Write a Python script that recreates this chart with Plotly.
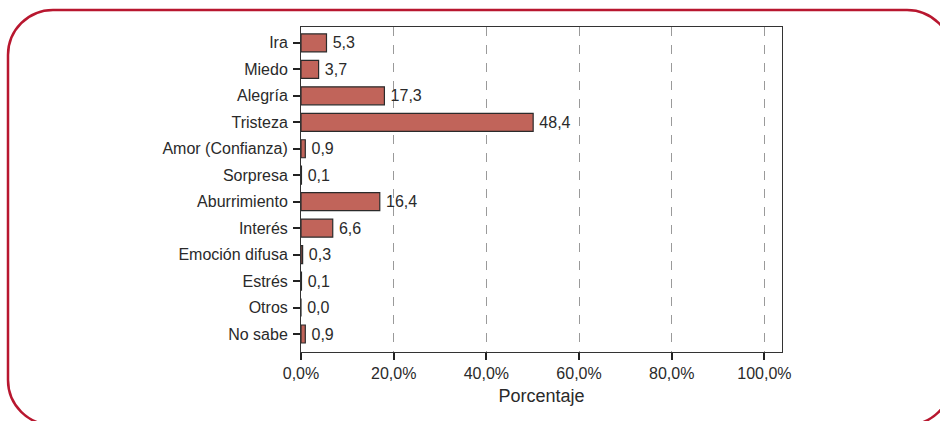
import plotly.graph_objects as go

categories = ["Ira", "Miedo", "Alegría", "Tristeza", "Amor (Confianza)", "Sorpresa",
              "Aburrimiento", "Interés", "Emoción difusa", "Estrés", "Otros", "No sabe"]
# bar lengths as drawn in the picture (percent on the axis)
bar_lengths = [5.5, 3.8, 18.0, 50.1, 0.93, 0.1, 17.0, 6.85, 0.35, 0.1, 0.0, 0.93]
# printed value labels
value_labels = ["5,3", "3,7", "17,3", "48,4", "0,9", "0,1", "16,4", "6,6", "0,3", "0,1", "0,0", "0,9"]
x_ticks = [0, 20, 40, 60, 80, 100]
x_tick_text = ["0,0%", "20,0%", "40,0%", "60,0%", "80,0%", "100,0%"]

FONT = "Liberation Sans, Arial, Helvetica, sans-serif"
TXT = "#2a2a2a"

W, H = 940, 421
L, R, T, B = 301, 782, 27, 352
pw, ph = R - L, B - T

fig = go.Figure()
fig.add_trace(go.Bar(
    y=categories, x=bar_lengths, orientation="h",
    width=0.68,
    marker=dict(color="#c1645a", line=dict(color="#2b2b2b", width=1.2)),
    text=["\u2009" + t for t in value_labels], textposition="outside", cliponaxis=False,
    textfont=dict(family=FONT, size=16, color=TXT),
    hoverinfo="skip",
))


def px(x):
    return (x - L) / pw


def py(y):
    return (B - y) / ph


# rounded red frame (page pixel coordinates); only the visible arcs/edges are drawn
x0, x1, y0, y1, r = 8, 952, 10, 425, 45
k = 0.5523 * r
frame_path = (
    # bottom-right arc (visible part) -> up is off-screen, so start at top-right arc end
    f"M {px(x1)},{py(y0 + r)} "
    f"C {px(x1)},{py(y0 + r - k)} {px(x1 - r + k)},{py(y0)} {px(x1 - r)},{py(y0)} "
    f"L {px(x0 + r)},{py(y0)} "
    f"C {px(x0 + r - k)},{py(y0)} {px(x0)},{py(y0 + r - k)} {px(x0)},{py(y0 + r)} "
    f"L {px(x0)},{py(y1 - r)} "
    f"C {px(x0)},{py(y1 - r + k)} {px(x0 + r - k)},{py(y1)} {px(x0 + r)},{py(y1)} "
)
br_arc = (
    f"M {px(x1)},{py(y1 - r)} "
    f"C {px(x1)},{py(y1 - r + k)} {px(x1 - r + k)},{py(y1)} {px(x1 - r)},{py(y1)}"
)

frame_line = dict(color="#b8172f", width=2.5)
fig.update_layout(
    width=W, height=H,
    margin=dict(l=L, r=W - R, t=T, b=H - B, pad=0),
    paper_bgcolor="white", plot_bgcolor="white",
    showlegend=False,
    font=dict(family=FONT, size=16, color=TXT),
    shapes=[
        dict(type="path", xref="paper", yref="paper", path=frame_path,
             line=frame_line, fillcolor="rgba(0,0,0,0)", layer="above"),
        dict(type="path", xref="paper", yref="paper", path=br_arc,
             line=frame_line, fillcolor="rgba(0,0,0,0)", layer="above"),
    ],
    xaxis=dict(
        range=[0, 103.8], tickvals=x_ticks, ticktext=x_tick_text,
        showgrid=True, gridcolor="#9a9a9a", griddash="dash", gridwidth=1,
        zeroline=False, showline=True, linecolor="#333333", linewidth=1, mirror=True,
        ticks="outside", ticklen=7, tickwidth=1.5, tickcolor="#222222",
        tickfont=dict(family=FONT, size=16, color=TXT),
        title=dict(text="Porcentaje", font=dict(family=FONT, size=18, color=TXT), standoff=8),
        fixedrange=True,
    ),
    yaxis=dict(
        categoryorder="array", categoryarray=categories,
        autorange=False, range=[11.68, -0.6],
        showgrid=False, zeroline=False, showline=True, linecolor="#333333", linewidth=1, mirror=True,
        ticks="outside", ticklen=7, tickwidth=1.5, tickcolor="#222222",
        ticklabelstandoff=2,
        tickfont=dict(family=FONT, size=16, color=TXT),
        fixedrange=True,
    ),
)

fig.write_html(
    "out.html",
    config={"displayModeBar": False},
    post_script="document.body.style.margin='0';document.body.style.overflow='hidden';",
)
